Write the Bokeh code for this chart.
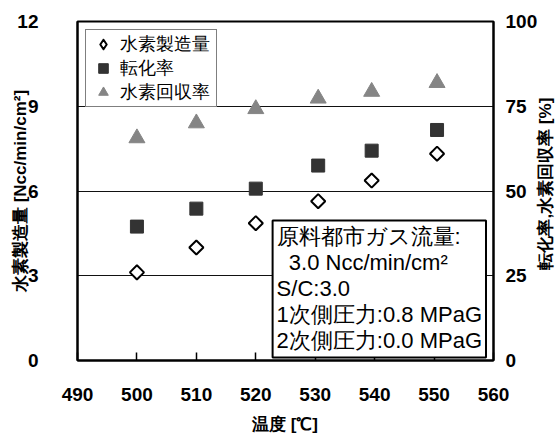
import numpy as np
from bokeh.plotting import figure
from bokeh.models import (Range1d, LinearAxis, FixedTicker, Label, Legend, LegendItem)
from bokeh.embed import file_html
from bokeh.resources import INLINE

# ---- data ----
temperature = [500, 510, 520, 530.5, 539.5, 550.5]
h2_production = [3.12, 4.00, 4.86, 5.64, 6.37, 7.32]          # Ncc/min/cm2 (left axis)
conversion = [39.5, 44.8, 50.7, 57.5, 61.9, 68.0]              # % (right axis)
h2_recovery = [65.6, 70.0, 74.2, 77.3, 79.3, 81.9]             # % (right axis)

x_ticks = [490, 500, 510, 520, 530, 540, 550, 560]
left_ticks = [0, 3, 6, 9, 12]
right_ticks = [0, 25, 50, 75, 100]

series_names = ["水素製造量", "転化率", "水素回収率"]
x_title = "温度 [℃]"
left_title = "水素製造量 [Ncc/min/cm²]"
right_title = "転化率,水素回収率 [%]"
note_text = ("原料都市ガス流量:\n\u00a0\u00a03.0 Ncc/min/cm²\nS/C:3.0\n"
             "1次側圧力:0.8 MPaG\n2次側圧力:0.0 MPaG")

LAT = "Liberation Sans"

p = figure(width=559, height=436, output_backend="svg", toolbar_location=None,
           x_range=Range1d(490, 560), y_range=Range1d(0, 12),
           min_border_left=77, min_border_right=62, min_border_top=21, min_border_bottom=74)
p.extra_y_ranges = {"pct": Range1d(0, 100)}

p.outline_line_color = "black"
p.outline_line_width = 2
p.outline_line_alpha = 1.0
p.background_fill_color = "white"
p.border_fill_color = "white"

# grid
p.xgrid.visible = False
p.ygrid.ticker = FixedTicker(ticks=[3, 6, 9])
p.ygrid.grid_line_color = "#111111"
p.ygrid.grid_line_width = 1.2


def style_axis(ax, standoff, label_standoff):
    ax.minor_tick_line_color = None
    ax.axis_line_width = 2
    ax.axis_line_color = "black"
    ax.major_tick_line_color = "black"
    ax.major_label_text_font = LAT
    ax.major_label_text_font_size = "19px"
    ax.major_label_text_font_style = "bold"
    ax.major_label_text_color = "black"
    ax.major_label_standoff = standoff
    ax.axis_label_text_font = LAT
    ax.axis_label_text_font_size = "17px"
    ax.axis_label_text_font_style = "bold"
    ax.axis_label_text_color = "black"
    ax.axis_label_standoff = label_standoff


# x axis
xa = p.xaxis[0]
xa.ticker = FixedTicker(ticks=x_ticks)
style_axis(xa, 27, 11)
xa.major_tick_in = 8
xa.major_tick_out = 0
xa.major_tick_line_width = 1.5
xa.axis_label = x_title

# left axis
ya = p.yaxis[0]
ya.ticker = FixedTicker(ticks=left_ticks)
style_axis(ya, 39, -16)
ya.major_tick_in = 0
ya.major_tick_out = 0
ya.axis_label = left_title

# right axis with tick labels
ra = LinearAxis(y_range_name="pct", ticker=FixedTicker(ticks=right_ticks))
style_axis(ra, 12, 0)
ra.major_tick_in = 0
ra.major_tick_out = 0
p.add_layout(ra, "right")

# right axis title, reading bottom-to-top, placed in the right side panel
right_label = Label(x=568.7, y=6.26, text=right_title, angle=np.pi / 2,
                    text_align="center", text_baseline="middle",
                    text_font=LAT, text_font_size="17px", text_font_style="bold",
                    text_color="black")
p.add_layout(right_label, "right")

# series
r_tri = p.scatter(temperature, h2_recovery, y_range_name="pct", marker="triangle", size=16,
                  fill_color="#858585", line_color="#858585")
r_sq = p.scatter(temperature, conversion, y_range_name="pct", marker="square", size=13,
                 fill_color="#333333", line_color="#333333")
# diamond used for the legend key (hidden under the rotated squares in the plot)
r_dia_key = p.scatter(temperature, h2_production, marker="diamond", size=12,
                      fill_color="white", line_color="black", line_width=2, line_join="round")
r_dia = p.scatter(temperature, h2_production, marker="square", angle=np.pi / 4, size=10,
                  fill_color="white", line_color="black", line_width=2)

legend = Legend(items=[LegendItem(label=series_names[0], renderers=[r_dia_key]),
                       LegendItem(label=series_names[1], renderers=[r_sq]),
                       LegendItem(label=series_names[2], renderers=[r_tri])],
                location="top_left")
legend.margin = 8
legend.padding = 2
legend.spacing = 0
legend.glyph_width = 30
legend.glyph_height = 24
legend.label_height = 23
legend.label_standoff = 2
legend.label_width = 94
legend.label_text_font = LAT
legend.label_text_font_size = "18px"
legend.label_text_color = "black"
legend.border_line_color = "black"
legend.border_line_width = 1.5
legend.background_fill_color = "white"
legend.background_fill_alpha = 1.0
p.add_layout(legend)

note = Label(x=522.83, y=4.96, text=note_text, text_font=LAT, text_font_size="22px",
             text_align="left", text_baseline="top", text_line_height=1.04,
             padding=4, background_fill_color="white", background_fill_alpha=1.0,
             border_line_color="black", border_line_width=2, text_color="black")
p.add_layout(note)

open("out.html", "w").write(file_html(p, INLINE))
